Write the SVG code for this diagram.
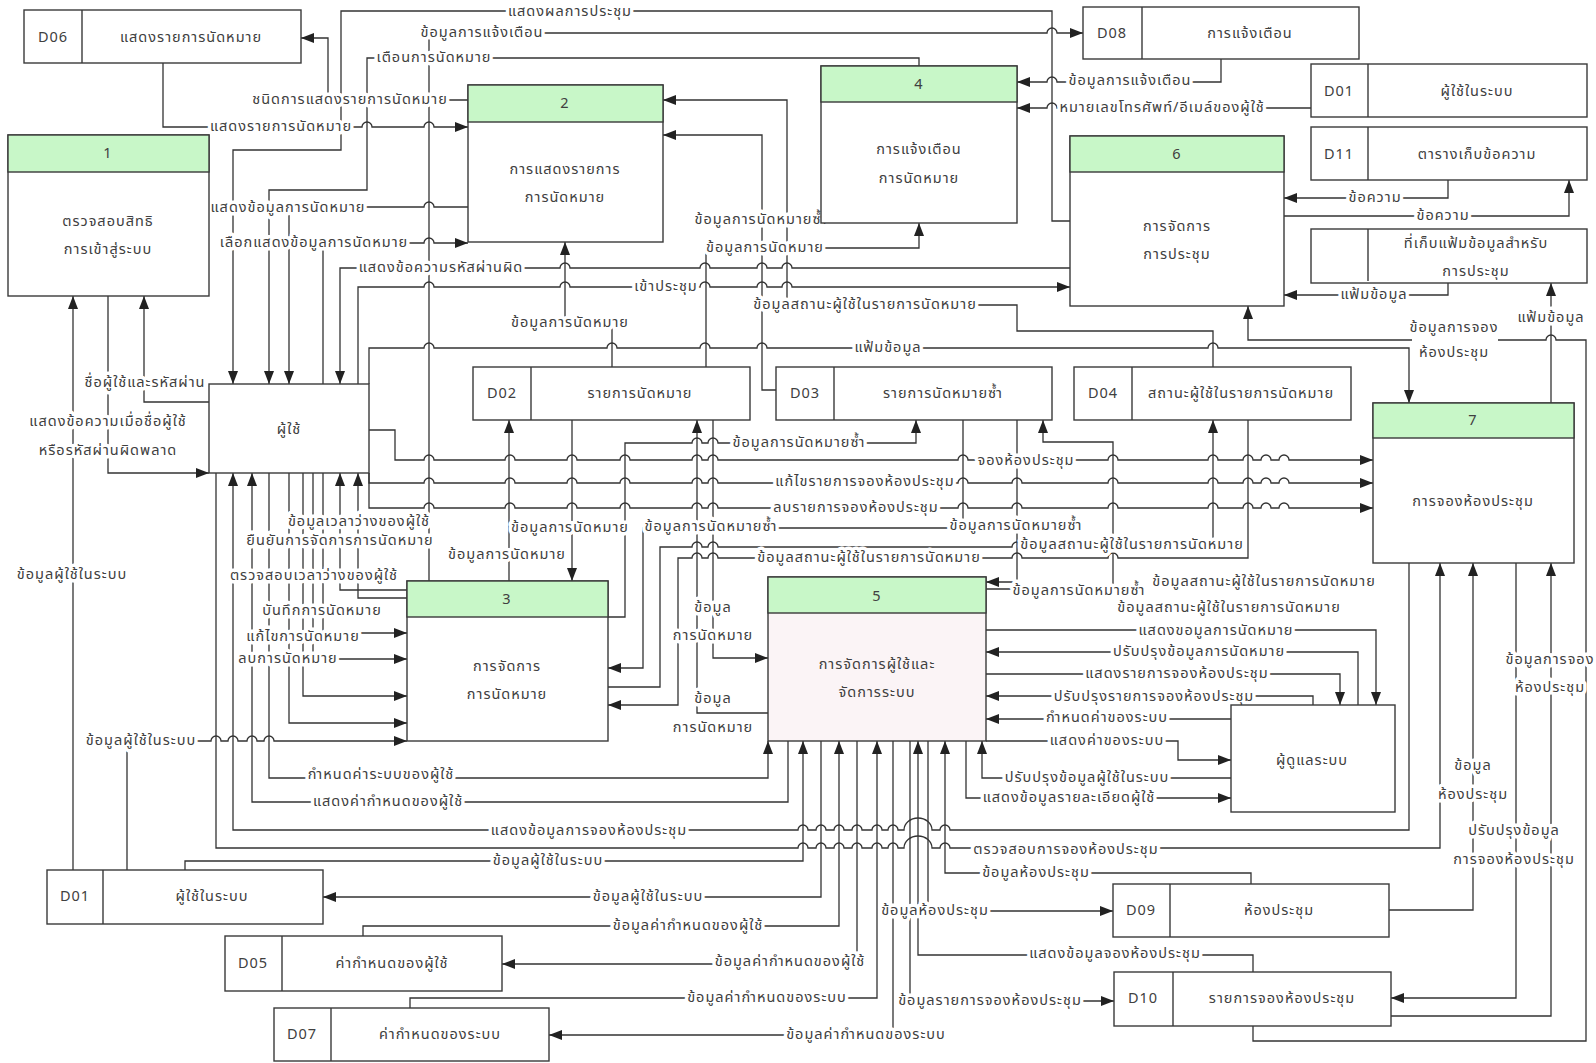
<svg xmlns="http://www.w3.org/2000/svg" width="1596" height="1063" viewBox="0 0 1596 1063">
<style>
text{font-family:"Noto Sans Thai","Noto Sans","DejaVu Sans",sans-serif;font-size:14.5px;letter-spacing:1px;fill:#404040;text-anchor:middle;dominant-baseline:central}
.box{fill:#fff;stroke:#3a3a3a;stroke-width:1.4}
.hdr{fill:#c8f7c8;stroke:#3a3a3a;stroke-width:1.4}
.div{stroke:#3a3a3a;stroke-width:1.4}
.ln path{fill:none;stroke:#333;stroke-width:1.3;marker-end:url(#arr)}
.lb text{paint-order:stroke;stroke:#fff;stroke-width:7px;stroke-linejoin:round}
</style>
<defs>
<marker id="arr" viewBox="0 0 13 10" refX="13" refY="5" markerWidth="13" markerHeight="10" markerUnits="userSpaceOnUse" orient="auto"><path d="M0 0L13 5L0 10z" fill="#222"/></marker>
</defs>
<rect width="1596" height="1063" fill="#fff"/>

<!-- connectors -->
<g id="connectors" class="ln">
<path d="M1070 221H1052V11H341V150H233V384"/>
<path d="M429 581V33H1047a5 5 0 0 1 10 0H1083"/>
<path d="M919 66V58H367V190H269V384"/>
<path d="M468 100H328V38H301"/>
<path d="M163 63V127H362a5 5 0 0 1 10 0H424a5 5 0 0 1 10 0H468"/>
<path d="M468 207H434a5 5 0 0 0 -10 0H289V384"/>
<path d="M323 384V243H424a5 5 0 0 1 10 0H468"/>
<path d="M1070 268H792a5 5 0 0 0 -10 0H767a5 5 0 0 0 -10 0H710a5 5 0 0 0 -10 0H570a5 5 0 0 0 -10 0H434a5 5 0 0 0 -10 0H340V384"/>
<path d="M358 384V287H424a5 5 0 0 1 10 0H560a5 5 0 0 1 10 0H700a5 5 0 0 1 10 0H757a5 5 0 0 1 10 0H782a5 5 0 0 1 10 0H1070"/>
<path d="M369 384V348H424a5 5 0 0 1 10 0H607a5 5 0 0 1 10 0H700a5 5 0 0 1 10 0H757a5 5 0 0 1 10 0H1208a5 5 0 0 1 10 0H1409V403"/>
<path d="M612 367V323H565V242"/>
<path d="M706 367V248H919V223"/>
<path d="M776 390H762V135H663"/>
<path d="M1213 367V331H1017V305H787V100H663"/>
<path d="M1221 59V82H1057a5 5 0 0 0 -10 0H1017"/>
<path d="M1311 108H1057a5 5 0 0 0 -10 0H1017"/>
<path d="M1448 180V198H1284"/>
<path d="M1284 216H1569V180"/>
<path d="M1448 283V295H1284"/>
<path d="M1551 403V283"/>
<path d="M1253 1026V1041H1586V340H1556a5 5 0 0 0 -10 0H1248V306"/>
<path d="M209 402H144V296"/>
<path d="M108 296V473H209"/>
<path d="M73 870V296"/>
<path d="M127 870V741H211a5 5 0 0 1 10 0H228a5 5 0 0 1 10 0H247a5 5 0 0 1 10 0H264a5 5 0 0 1 10 0H407"/>
<path d="M369 430H395V460H424a5 5 0 0 1 10 0H505a5 5 0 0 1 10 0H567a5 5 0 0 1 10 0H620a5 5 0 0 1 10 0H692a5 5 0 0 1 10 0H708a5 5 0 0 1 10 0H958a5 5 0 0 1 10 0H1012a5 5 0 0 1 10 0H1108a5 5 0 0 1 10 0H1208a5 5 0 0 1 10 0H1243a5 5 0 0 1 10 0H1261a5 5 0 0 1 10 0H1279a5 5 0 0 1 10 0H1373"/>
<path d="M369 473V483H424a5 5 0 0 1 10 0H505a5 5 0 0 1 10 0H567a5 5 0 0 1 10 0H620a5 5 0 0 1 10 0H692a5 5 0 0 1 10 0H708a5 5 0 0 1 10 0H958a5 5 0 0 1 10 0H1012a5 5 0 0 1 10 0H1108a5 5 0 0 1 10 0H1208a5 5 0 0 1 10 0H1243a5 5 0 0 1 10 0H1261a5 5 0 0 1 10 0H1279a5 5 0 0 1 10 0H1373"/>
<path d="M369 473V508H424a5 5 0 0 1 10 0H505a5 5 0 0 1 10 0H567a5 5 0 0 1 10 0H620a5 5 0 0 1 10 0H692a5 5 0 0 1 10 0H708a5 5 0 0 1 10 0H958a5 5 0 0 1 10 0H1012a5 5 0 0 1 10 0H1108a5 5 0 0 1 10 0H1208a5 5 0 0 1 10 0H1243a5 5 0 0 1 10 0H1261a5 5 0 0 1 10 0H1279a5 5 0 0 1 10 0H1373"/>
<path d="M509 581V420"/>
<path d="M572 420V581"/>
<path d="M608 617H625V443H692a5 5 0 0 1 10 0H708a5 5 0 0 1 10 0H916V420"/>
<path d="M713 420V658H768"/>
<path d="M768 713H697V420"/>
<path d="M963 420V528H718a5 5 0 0 0 -10 0H702a5 5 0 0 0 -10 0H643V668H608"/>
<path d="M1017 420V582H986"/>
<path d="M986 589H1113V442H1043V420"/>
<path d="M608 687H660V547H692a5 5 0 0 1 10 0H708a5 5 0 0 1 10 0H1012a5 5 0 0 1 10 0H1108a5 5 0 0 1 10 0H1213V420"/>
<path d="M1248 420V558H1118a5 5 0 0 0 -10 0H1022a5 5 0 0 0 -10 0H718a5 5 0 0 0 -10 0H702a5 5 0 0 0 -10 0H678V705H608"/>
<path d="M407 590H340V473"/>
<path d="M407 598H358V473"/>
<path d="M323 473V633H407"/>
<path d="M313 473V659H407"/>
<path d="M303 473V696H407"/>
<path d="M289 473V723H407"/>
<path d="M986 630H1376V705"/>
<path d="M1358 705V652H986"/>
<path d="M986 674H1340V705"/>
<path d="M1313 705V696H986"/>
<path d="M1231 719H986"/>
<path d="M986 741H1178V760H1231"/>
<path d="M1231 778H982V741"/>
<path d="M966 741V798H1231"/>
<path d="M269 473V778H768V741"/>
<path d="M788 741V802H252V473"/>
<path d="M1409 563V830H950a5 5 0 0 0 -10 0H932a14 12 0 0 0 -28 0H898a5 5 0 0 0 -10 0H882a5 5 0 0 0 -10 0H862a5 5 0 0 0 -10 0H844a5 5 0 0 0 -10 0H826a5 5 0 0 0 -10 0H808a5 5 0 0 0 -10 0H233V473"/>
<path d="M216 473V848H798a5 5 0 0 1 10 0H816a5 5 0 0 1 10 0H834a5 5 0 0 1 10 0H852a5 5 0 0 1 10 0H872a5 5 0 0 1 10 0H888a5 5 0 0 1 10 0H904a14 12 0 0 1 28 0H940a5 5 0 0 1 10 0H1440V563"/>
<path d="M185 870V861H803V741"/>
<path d="M821 741V897H323"/>
<path d="M363 936V926H839V741"/>
<path d="M857 741V964H502"/>
<path d="M410 1008V998H877V741"/>
<path d="M893 741V1035H549"/>
<path d="M928 741V911H1113"/>
<path d="M1251 884V873H945V741"/>
<path d="M1253 972V955H918V741"/>
<path d="M910 741V1001H1114"/>
<path d="M1389 910H1473V563"/>
<path d="M1516 563V998H1391"/>
<path d="M1391 1016H1551V563"/>
</g>

<!-- connector labels -->
<g id="labels" class="lb">
<text x="570" y="12">แสดงผลการประชุม</text>
<text x="482" y="33">ข้อมูลการแจ้งเตือน</text>
<text x="434" y="58">เตือนการนัดหมาย</text>
<text x="350" y="100">ชนิดการแสดงรายการนัดหมาย</text>
<text x="281" y="127">แสดงรายการนัดหมาย</text>
<text x="288" y="208">แสดงข้อมูลการนัดหมาย</text>
<text x="314" y="243">เลือกแสดงข้อมูลการนัดหมาย</text>
<text x="441" y="268">แสดงข้อความรหัสผ่านผิด</text>
<text x="666" y="287">เข้าประชุม</text>
<text x="570" y="323">ข้อมูลการนัดหมาย</text>
<text x="761" y="220">ข้อมูลการนัดหมายซ้ำ</text>
<text x="765" y="248">ข้อมูลการนัดหมาย</text>
<text x="865" y="305">ข้อมูลสถานะผู้ใช้ในรายการนัดหมาย</text>
<text x="888" y="348">แฟ้มข้อมูล</text>
<text x="1130" y="81">ข้อมูลการแจ้งเตือน</text>
<text x="1162" y="108">หมายเลขโทรศัพท์/อีเมล์ของผู้ใช้</text>
<text x="1375" y="198">ข้อความ</text>
<text x="1443" y="216">ข้อความ</text>
<text x="1374" y="295">แฟ้มข้อมูล</text>
<text x="1551" y="318">แฟ้มข้อมูล</text>
<rect x="1412" y="318" width="86" height="44" fill="#fff"/>
<text x="1454" y="328">ข้อมูลการจอง</text>
<text x="1454" y="353">ห้องประชุม</text>
<text x="145" y="383">ชื่อผู้ใช้และรหัสผ่าน</text>
<text x="108" y="422">แสดงข้อความเมื่อชื่อผู้ใช้</text>
<text x="108" y="451">หรือรหัสผ่านผิดพลาด</text>
<text x="72" y="575">ข้อมูลผู้ใช้ในระบบ</text>
<text x="141" y="741">ข้อมูลผู้ใช้ในระบบ</text>
<text x="1026" y="461">จองห้องประชุม</text>
<text x="865" y="482">แก้ไขรายการจองห้องประชุม</text>
<text x="856" y="508">ลบรายการจองห้องประชุม</text>
<text x="799" y="443">ข้อมูลการนัดหมายซ้ำ</text>
<text x="570" y="528">ข้อมูลการนัดหมาย</text>
<text x="507" y="555">ข้อมูลการนัดหมาย</text>
<text x="711" y="527">ข้อมูลการนัดหมายซ้ำ</text>
<text x="1016" y="526">ข้อมูลการนัดหมายซ้ำ</text>
<text x="1079" y="591">ข้อมูลการนัดหมายซ้ำ</text>
<text x="1132" y="545">ข้อมูลสถานะผู้ใช้ในรายการนัดหมาย</text>
<text x="869" y="558">ข้อมูลสถานะผู้ใช้ในรายการนัดหมาย</text>
<text x="1264" y="582">ข้อมูลสถานะผู้ใช้ในรายการนัดหมาย</text>
<text x="1229" y="608">ข้อมูลสถานะผู้ใช้ในรายการนัดหมาย</text>
<text x="713" y="608">ข้อมูล</text>
<text x="713" y="636">การนัดหมาย</text>
<text x="713" y="699">ข้อมูล</text>
<text x="713" y="728">การนัดหมาย</text>
<text x="359" y="522">ข้อมูลเวลาว่างของผู้ใช้</text>
<text x="340" y="541">ยืนยันการจัดการการนัดหมาย</text>
<text x="314" y="576">ตรวจสอบเวลาว่างของผู้ใช้</text>
<text x="322" y="611">บันทึกการนัดหมาย</text>
<text x="303" y="637">แก้ไขการนัดหมาย</text>
<text x="288" y="659">ลบการนัดหมาย</text>
<text x="1216" y="631">แสดงขอมูลการนัดหมาย</text>
<text x="1199" y="652">ปรับปรุงข้อมูลการนัดหมาย</text>
<text x="1177" y="674">แสดงรายการจองห้องประชุม</text>
<text x="1154" y="697">ปรับปรุงรายการจองห้องประชุม</text>
<text x="1107" y="718">กำหนดค่าของระบบ</text>
<text x="1107" y="741">แสดงค่าของระบบ</text>
<text x="1087" y="778">ปรับปรุงข้อมูลผู้ใช้ในระบบ</text>
<text x="1069" y="798">แสดงข้อมูลรายละเอียดผู้ใช้</text>
<text x="381" y="775">กำหนดค่าระบบของผู้ใช้</text>
<text x="388" y="802">แสดงค่ากำหนดของผู้ใช้</text>
<text x="589" y="831">แสดงข้อมูลการจองห้องประชุม</text>
<text x="1066" y="850">ตรวจสอบการจองห้องประชุม</text>
<text x="548" y="861">ข้อมูลผู้ใช้ในระบบ</text>
<text x="648" y="897">ข้อมูลผู้ใช้ในระบบ</text>
<text x="688" y="926">ข้อมูลค่ากำหนดของผู้ใช้</text>
<text x="790" y="962">ข้อมูลค่ากำหนดของผู้ใช้</text>
<text x="767" y="998">ข้อมูลค่ากำหนดของระบบ</text>
<text x="866" y="1035">ข้อมูลค่ากำหนดของระบบ</text>
<text x="935" y="911">ข้อมูลห้องประชุม</text>
<text x="1036" y="873">ข้อมูลห้องประชุม</text>
<text x="1115" y="954">แสดงข้อมูลจองห้องประชุม</text>
<text x="990" y="1001">ข้อมูลรายการจองห้องประชุม</text>
<text x="1473" y="766">ข้อมูล</text>
<text x="1473" y="795">ห้องประชุม</text>
<text x="1514" y="831">ปรับปรุงข้อมูล</text>
<text x="1514" y="860">การจองห้องประชุม</text>
<text x="1550" y="660">ข้อมูลการจอง</text>
<text x="1550" y="688">ห้องประชุม</text>
</g>

<!-- processes -->
<g id="p1"><rect class="box" x="8" y="135" width="201" height="161"/><rect class="hdr" x="8" y="135" width="201" height="37"/><text x="108" y="154">1</text><text x="108" y="222">ตรวจสอบสิทธิ</text><text x="108" y="250">การเข้าสู่ระบบ</text></g>
<g id="p2"><rect class="box" x="468" y="85" width="195" height="157"/><rect class="hdr" x="468" y="85" width="195" height="37"/><text x="565" y="104">2</text><text x="565" y="170">การแสดงรายการ</text><text x="565" y="198">การนัดหมาย</text></g>
<g id="p3"><rect class="box" x="407" y="581" width="201" height="160"/><rect class="hdr" x="407" y="581" width="201" height="36"/><text x="507" y="600">3</text><text x="507" y="667">การจัดการ</text><text x="507" y="695">การนัดหมาย</text></g>
<g id="p4"><rect class="box" x="821" y="66" width="196" height="157"/><rect class="hdr" x="821" y="66" width="196" height="36"/><text x="919" y="85">4</text><text x="919" y="150">การแจ้งเตือน</text><text x="919" y="179">การนัดหมาย</text></g>
<g id="p5"><rect class="box" x="768" y="577" width="218" height="164" style="fill:#fbf4f6"/><rect class="hdr" x="768" y="577" width="218" height="36"/><text x="877" y="597">5</text><text x="877" y="665">การจัดการผู้ใช้และ</text><text x="877" y="693">จัดการระบบ</text></g>
<g id="p6"><rect class="box" x="1070" y="136" width="214" height="170"/><rect class="hdr" x="1070" y="136" width="214" height="36"/><text x="1177" y="155">6</text><text x="1177" y="227">การจัดการ</text><text x="1177" y="255">การประชุม</text></g>
<g id="p7"><rect class="box" x="1373" y="403" width="201" height="160"/><rect class="hdr" x="1373" y="403" width="201" height="35"/><text x="1473" y="421">7</text><text x="1473" y="502">การจองห้องประชุม</text></g>

<!-- external entities -->
<g id="e-user"><rect class="box" x="209" y="384" width="160" height="89"/><text x="289" y="430">ผู้ใช้</text></g>
<g id="e-admin"><rect class="box" x="1231" y="705" width="164" height="107"/><text x="1312" y="761">ผู้ดูแลระบบ</text></g>

<!-- data stores -->
<g id="d06"><rect class="box" x="24" y="10" width="277" height="53"/><line class="div" x1="82" y1="10" x2="82" y2="63"/><text x="53" y="38">D06</text><text x="191" y="38">แสดงรายการนัดหมาย</text></g>
<g id="d08"><rect class="box" x="1083" y="7" width="276" height="52"/><line class="div" x1="1142" y1="7" x2="1142" y2="59"/><text x="1112" y="34">D08</text><text x="1250" y="34">การแจ้งเตือน</text></g>
<g id="d01-top"><rect class="box" x="1311" y="64" width="276" height="53"/><line class="div" x1="1368" y1="64" x2="1368" y2="117"/><text x="1339" y="92">D01</text><text x="1477" y="92">ผู้ใช้ในระบบ</text></g>
<g id="d11"><rect class="box" x="1311" y="127" width="276" height="53"/><line class="div" x1="1368" y1="127" x2="1368" y2="180"/><text x="1339" y="155">D11</text><text x="1477" y="155">ตารางเก็บข้อความ</text></g>
<g id="d-files"><rect class="box" x="1311" y="229" width="276" height="54"/><line class="div" x1="1368" y1="229" x2="1368" y2="281"/><text x="1476" y="244">ที่เก็บแฟ้มข้อมูลสำหรับ</text><text x="1476" y="272">การประชุม</text></g>
<g id="d02"><rect class="box" x="473" y="367" width="277" height="53"/><line class="div" x1="531" y1="367" x2="531" y2="420"/><text x="502" y="394">D02</text><text x="640" y="394">รายการนัดหมาย</text></g>
<g id="d03"><rect class="box" x="776" y="367" width="276" height="53"/><line class="div" x1="834" y1="367" x2="834" y2="420"/><text x="805" y="394">D03</text><text x="943" y="394">รายการนัดหมายซ้ำ</text></g>
<g id="d04"><rect class="box" x="1074" y="367" width="277" height="53"/><line class="div" x1="1132" y1="367" x2="1132" y2="420"/><text x="1103" y="394">D04</text><text x="1241" y="394">สถานะผู้ใช้ในรายการนัดหมาย</text></g>
<g id="d01-bottom"><rect class="box" x="47" y="870" width="276" height="54"/><line class="div" x1="103" y1="870" x2="103" y2="924"/><text x="75" y="897">D01</text><text x="212" y="897">ผู้ใช้ในระบบ</text></g>
<g id="d05"><rect class="box" x="225" y="936" width="277" height="55"/><line class="div" x1="282" y1="936" x2="282" y2="991"/><text x="253" y="964">D05</text><text x="392" y="964">ค่ากำหนดของผู้ใช้</text></g>
<g id="d07"><rect class="box" x="274" y="1008" width="275" height="53"/><line class="div" x1="331" y1="1008" x2="331" y2="1061"/><text x="302" y="1035">D07</text><text x="440" y="1035">ค่ากำหนดของระบบ</text></g>
<g id="d09"><rect class="box" x="1113" y="884" width="276" height="53"/><line class="div" x1="1170" y1="884" x2="1170" y2="937"/><text x="1141" y="911">D09</text><text x="1279" y="911">ห้องประชุม</text></g>
<g id="d10"><rect class="box" x="1114" y="972" width="277" height="54"/><line class="div" x1="1173" y1="972" x2="1173" y2="1026"/><text x="1143" y="999">D10</text><text x="1282" y="999">รายการจองห้องประชุม</text></g>
</svg>
